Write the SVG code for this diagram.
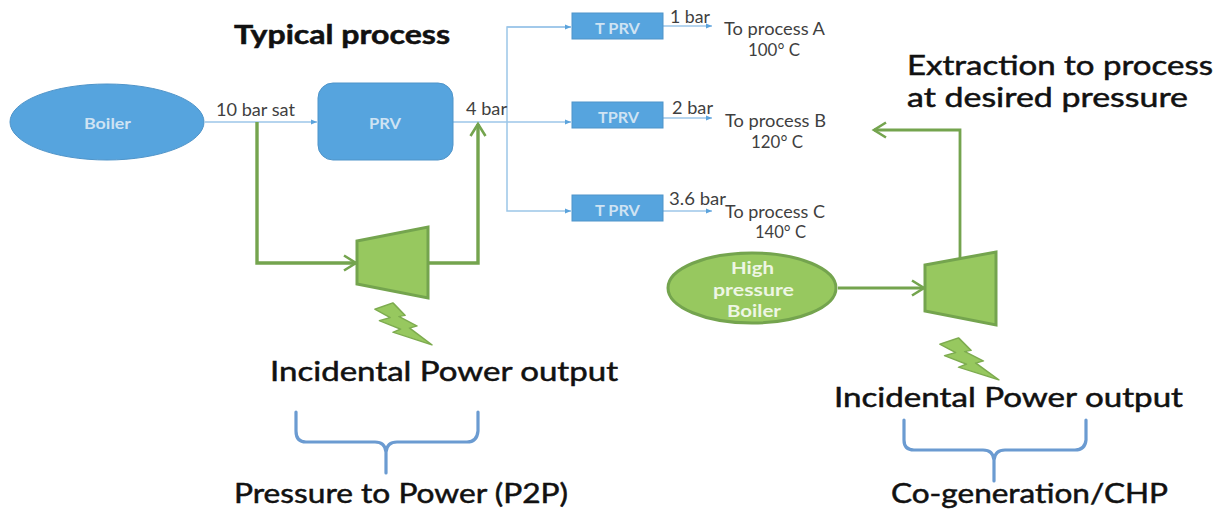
<svg xmlns="http://www.w3.org/2000/svg" width="1225" height="510" viewBox="0 0 1225 510">
<defs>
<marker id="blueArrow" markerUnits="userSpaceOnUse" markerWidth="8" markerHeight="8" refX="6" refY="4" orient="auto"><path d="M0,1.5 L6,4 L0,6.5 Z" fill="#5ba3dc"/></marker>
<marker id="greenArrow" markerUnits="userSpaceOnUse" markerWidth="18" markerHeight="20" refX="15" refY="10" orient="auto"><path d="M3,2.5 L15,10 L3,17.5" fill="none" stroke="#74a44e" stroke-width="2.6"/></marker>
<path id="bolt" d="M0,3 L12,-3 L20,9 L16,10 L28,19 L23,21 L38,37 L12,25 L17,22 L3,14 L10,11 Z" fill="#97c85f" stroke="#7dab4f" stroke-width="1.2" stroke-linejoin="round"/>
</defs>
<style>
.hand{font-family:"Lato","Open Sans",sans-serif;font-size:27px;fill:#111;stroke:#111;stroke-width:.5}
.lbl{font-family:"Lato","Liberation Sans",sans-serif;font-size:16.5px;fill:#3f3f3f}
.in{font-family:"Lato","Liberation Sans",sans-serif;font-size:15.5px;font-weight:700;fill:#cfe3f3}
.hp{fill:#eef6e4;font-size:17px}
.blue{fill:#56a4de;stroke:#4f94c9;stroke-width:1}
.bl{fill:none;stroke:#9cc6e8;stroke-width:1.5}
.gr{fill:none;stroke:#74a44e;stroke-width:3.4}
.grt{fill:none;stroke:#74a44e;stroke-width:2.8}
.turb{fill:#97c85f;stroke:#74a44e;stroke-width:3}
.brace{fill:none;stroke:#6b9bd1;stroke-width:3.2;stroke-linecap:round}
</style>
<g id="connectors">
<path class="bl" d="M205,122 H317" marker-end="url(#blueArrow)"/>
<path class="bl" d="M453,122 H571" marker-end="url(#blueArrow)"/>
<path class="bl" d="M571,27 H507 V211 H571" marker-end="url(#blueArrow)"/>
<path class="bl" d="M507,27 H571" marker-end="url(#blueArrow)"/>
<path class="bl" d="M663,26 H712" marker-end="url(#blueArrow)"/>
<path class="bl" d="M663,118 H712" marker-end="url(#blueArrow)"/>
<path class="bl" d="M663,211 H712" marker-end="url(#blueArrow)"/>
<path class="gr" d="M257,122 V263 H356" marker-end="url(#greenArrow)"/>
<path class="gr" d="M428,263 H478 V124" marker-end="url(#greenArrow)"/>
<path class="grt" d="M838,288 H924" marker-end="url(#greenArrow)"/>
<path class="grt" d="M960,259 V130 H874" marker-end="url(#greenArrow)"/>
</g>
<g id="title"><text class="hand" style="font-weight:700" x="234" y="44" textLength="216" lengthAdjust="spacingAndGlyphs">Typical process</text></g>
<g id="boiler"><ellipse class="blue" cx="107" cy="122" rx="97" ry="38"/><text class="in" x="84" y="129" textLength="47" lengthAdjust="spacingAndGlyphs">Boiler</text></g>
<g id="prv"><rect class="blue" x="318" y="83" width="135" height="77" rx="15"/><text class="in" x="369" y="129" textLength="32" lengthAdjust="spacingAndGlyphs">PRV</text></g>
<g id="label-10bar"><text class="lbl" x="216" y="116" textLength="79" lengthAdjust="spacingAndGlyphs">10 bar sat</text></g>
<g id="label-4bar"><text class="lbl" x="466" y="115" textLength="41" lengthAdjust="spacingAndGlyphs">4 bar</text></g>
<g id="tprv-a"><rect class="blue" x="572" y="13" width="91" height="26"/><text class="in" x="595" y="34" textLength="45" lengthAdjust="spacingAndGlyphs">T PRV</text></g>
<g id="tprv-b"><rect class="blue" x="572" y="102" width="91" height="26"/><text class="in" x="598" y="123" textLength="41" lengthAdjust="spacingAndGlyphs">TPRV</text></g>
<g id="tprv-c"><rect class="blue" x="572" y="195" width="91" height="26"/><text class="in" x="595" y="216" textLength="45" lengthAdjust="spacingAndGlyphs">T PRV</text></g>
<g id="label-1bar"><text class="lbl" x="670" y="23" textLength="40" lengthAdjust="spacingAndGlyphs">1 bar</text></g>
<g id="label-2bar"><text class="lbl" x="672" y="114" textLength="41" lengthAdjust="spacingAndGlyphs">2 bar</text></g>
<g id="label-36bar"><text class="lbl" x="669" y="205" textLength="57" lengthAdjust="spacingAndGlyphs">3.6 bar</text></g>
<g id="process-a"><text class="lbl" x="724" y="35" textLength="101" lengthAdjust="spacingAndGlyphs">To process A</text><text class="lbl" x="748" y="56" textLength="52" lengthAdjust="spacingAndGlyphs">100° C</text></g>
<g id="process-b"><text class="lbl" x="725" y="127" textLength="101" lengthAdjust="spacingAndGlyphs">To process B</text><text class="lbl" x="751" y="148" textLength="52" lengthAdjust="spacingAndGlyphs">120° C</text></g>
<g id="process-c"><text class="lbl" x="725" y="218" textLength="100" lengthAdjust="spacingAndGlyphs">To process C</text><text class="lbl" x="755" y="238" textLength="51" lengthAdjust="spacingAndGlyphs">140° C</text></g>
<g id="extraction"><text class="hand" x="907" y="75" textLength="306" lengthAdjust="spacingAndGlyphs">Extraction to process</text><text class="hand" x="907" y="107" textLength="281" lengthAdjust="spacingAndGlyphs">at desired pressure</text></g>
<g id="turbine-p2p"><path class="turb" d="M357,241 L428,227 V298 L357,284 Z"/></g>
<g id="bolt-p2p"><use href="#bolt" transform="translate(375,306) scale(1.5,1.05)"/></g>
<g id="power-p2p"><text class="hand" x="270" y="381" textLength="348" lengthAdjust="spacingAndGlyphs">Incidental Power output</text></g>
<g id="brace-p2p"><path class="brace" d="M296,412 V431 Q296,442 306,442 H375 Q385,442 386,452 V473 M386,452 Q387,442 397,442 H467 Q477,442 478,431 V412"/></g>
<g id="p2p"><text class="hand" x="234" y="503" textLength="334" lengthAdjust="spacingAndGlyphs">Pressure to Power (P2P)</text></g>
<g id="hp-boiler"><ellipse cx="752" cy="288" rx="84" ry="35" fill="#97c85f" stroke="#74a44e" stroke-width="3"/><text class="in hp" x="731" y="274" textLength="43" lengthAdjust="spacingAndGlyphs">High</text><text class="in hp" x="713" y="296" textLength="81" lengthAdjust="spacingAndGlyphs">pressure</text><text class="in hp" x="727" y="317" textLength="54" lengthAdjust="spacingAndGlyphs">Boiler</text></g>
<g id="turbine-chp"><path class="turb" d="M925,265 L996,252 V325 L925,311 Z"/></g>
<g id="bolt-chp"><use href="#bolt" transform="translate(940,341) scale(1.55,1.05)"/></g>
<g id="power-chp"><text class="hand" x="834" y="407" textLength="349" lengthAdjust="spacingAndGlyphs">Incidental Power output</text></g>
<g id="brace-chp"><path class="brace" d="M904,420 V440 Q904,450 914,450 H983 Q993,450 994,460 V481 M994,460 Q995,450 1005,450 H1075 Q1085,450 1086,440 V420"/></g>
<g id="chp"><text class="hand" x="891" y="503" textLength="277" lengthAdjust="spacingAndGlyphs">Co-generation/CHP</text></g>
</svg>
